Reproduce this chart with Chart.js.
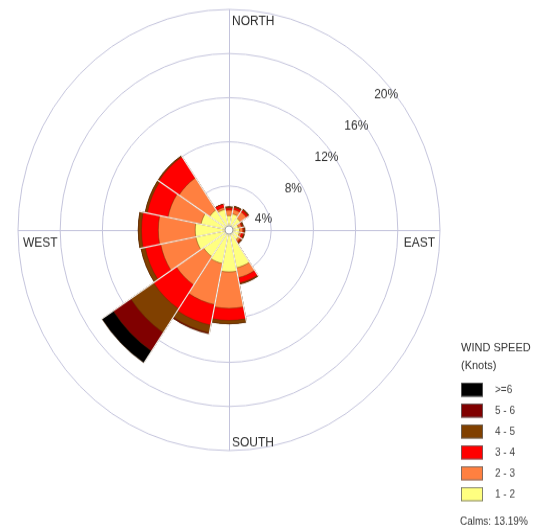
<!DOCTYPE html>
<html>
<head>
<meta charset="utf-8">
<script src="https://cdn.jsdelivr.net/npm/chart.js@4/dist/chart.umd.min.js"></script>
<style>
  html, body { margin: 0; padding: 0; background: #ffffff; }
  #rose { display: block; }
</style>
</head>
<body>
<!-- the bitmap is drawn at 539x506 and shown at 539x529 (slightly tall rose) -->
<canvas id="rose" width="539" height="506" style="width:539px;height:529px"></canvas>
<script>
// Direction sectors, clockwise from north
const directions = ['N', 'NNE', 'NE', 'ENE', 'E', 'ESE', 'SE', 'SSE',
                    'S', 'SSW', 'SW', 'WSW', 'W', 'WNW', 'NW', 'NNW'];

// Frequency (%) of each wind-speed class per direction
const speed1to2 = [1.3, 1.5, 1.3, 0.9, 1.0, 1.0, 1.1, 3.5, 3.8, 3.1, 2.9, 3.2, 3.2, 2.7, 2.2, 1.9];
const speed2to3 = [0.5, 0.4, 0.7, 0.3, 0.3, 0.2, 0.2, 0.9, 3.3, 3.8, 3.1, 3.4, 3.5, 3.2, 3.5, 0.2];
const speed3to4 = [0.2, 0.2, 0.2, 0.1, 0.1, 0.2, 0.1, 0.5, 1.1, 1.9, 2.6, 1.5, 1.6, 2.0, 2.3, 0.3];
const speed4to5 = [0.1, 0.1, 0.1, 0.1, 0.1, 0.1, 0.1, 0.1, 0.3, 0.7, 2.6, 0.4, 0.3, 0.2, 0.1, 0.0];
const speed5to6 = [0.0, 0.0, 0.0, 0.0, 0.0, 0.0, 0.0, 0.0, 0.0, 0.1, 2.0, 0.0, 0.0, 0.0, 0.0, 0.0];
const speed6up  = [0.0, 0.0, 0.0, 0.0, 0.0, 0.0, 0.0, 0.0, 0.0, 0.0, 1.3, 0.0, 0.0, 0.0, 0.0, 0.0];

const speedClasses = ['1 - 2', '2 - 3', '3 - 4', '4 - 5', '5 - 6', '>=6'];
const speedColors  = ['#ffff80', '#ff8040', '#ff0000', '#804000', '#800000', '#000000'];
const ringTicks = [4, 8, 12, 16, 20];
const compass = ['NORTH', 'EAST', 'SOUTH', 'WEST'];
const calmsPct = 13.19;
const legendTitle = ['WIND SPEED', '(Knots)'];

// Each speed class is drawn as a polar-area ring stacked on the classes below it
const bands = [speed1to2, speed2to3, speed3to4, speed4to5, speed5to6, speed6up];
const running = directions.map(() => 0);
const datasets = bands.map((band, k) => {
  const cumulative = band.map((v, i) => {
    running[i] = +(running[i] + v).toFixed(2);
    return running[i];
  });
  return {
    label: speedClasses[k],
    data: cumulative,
    backgroundColor: speedColors[k],
    borderColor: 'rgba(90,45,0,0.55)',
    borderWidth: 0.8
  };
});
const totals = running.slice();

const SECTOR = 360 / directions.length;
const START = -SECTOR / 2;
const FONT = '"Liberation Sans", Arial, sans-serif';

const roseDecor = {
  id: 'roseDecor',
  beforeDatasetsDraw(chart) {
    const s = chart.scales.r;
    const ctx = chart.ctx;
    const R = s.drawingArea;
    ctx.save();
    ctx.strokeStyle = '#c4c4dc';
    ctx.lineWidth = 1;
    ctx.beginPath();
    ctx.moveTo(s.xCenter + 0.5, s.yCenter - R);
    ctx.lineTo(s.xCenter + 0.5, s.yCenter + R);
    ctx.moveTo(s.xCenter - R, s.yCenter + 0.5);
    ctx.lineTo(s.xCenter + R, s.yCenter + 0.5);
    ctx.stroke();
    ctx.restore();
  },
  afterDatasetsDraw(chart) {
    const s = chart.scales.r;
    const ctx = chart.ctx;
    const xc = s.xCenter, yc = s.yCenter, R = s.drawingArea;
    ctx.save();

    // light gaps between neighbouring sectors
    ctx.strokeStyle = '#f6f3ee';
    ctx.lineWidth = 1.2;
    for (let k = 0; k < directions.length; k++) {
      const prev = totals[(k + directions.length - 1) % directions.length];
      const reach = s.getDistanceFromCenterForValue(Math.max(prev, totals[k])) + 1;
      const a = (START + k * SECTOR) * Math.PI / 180 - Math.PI / 2;
      ctx.beginPath();
      ctx.moveTo(xc, yc);
      ctx.lineTo(xc + reach * Math.cos(a), yc + reach * Math.sin(a));
      ctx.stroke();
    }

    // calm hole
    ctx.beginPath();
    ctx.arc(xc, yc, 4, 0, Math.PI * 2);
    ctx.fillStyle = '#ffffff';
    ctx.fill();
    ctx.strokeStyle = '#a0a0a0';
    ctx.lineWidth = 1;
    ctx.stroke();

    // ring percentages along the north-east diagonal
    ctx.fillStyle = '#333333';
    ctx.font = '12px ' + FONT;
    ctx.textAlign = 'left';
    ctx.textBaseline = 'top';
    ringTicks.forEach(t => {
      const r = s.getDistanceFromCenterForValue(t) * Math.SQRT1_2;
      ctx.fillText(t + '%', xc + r - 4, yc - r + 14);
    });

    // compass labels
    ctx.textBaseline = 'alphabetic';
    ctx.fillStyle = '#2a2a2a';
    ctx.textAlign = 'left';
    ctx.fillText(compass[0], xc + 3, yc - R + 15);
    ctx.fillText(compass[2], xc + 3, yc + R - 4);
    ctx.fillText(compass[3], xc - R + 5, yc + 16);
    ctx.textAlign = 'right';
    ctx.fillText(compass[1], xc + R - 5, yc + 16);

    // legend
    const lx = 461;
    ctx.textAlign = 'left';
    ctx.fillStyle = '#333333';
    ctx.font = '11px ' + FONT;
    ctx.fillText(legendTitle[0], lx, 335.5);
    ctx.fillText(legendTitle[1], lx, 353);
    ctx.font = '10px ' + FONT;
    ctx.textBaseline = 'middle';
    for (let i = 0; i < speedClasses.length; i++) {
      const k = speedClasses.length - 1 - i;
      const top = 366 + i * 20;
      ctx.fillStyle = speedColors[k];
      ctx.fillRect(lx, top, 22, 13.4);
      ctx.strokeStyle = '#666666';
      ctx.lineWidth = 0.8;
      ctx.strokeRect(lx + 0.4, top + 0.4, 21.2, 12.6);
      ctx.fillStyle = '#444444';
      ctx.fillText(speedClasses[k], lx + 34, top + 7);
    }
    ctx.textBaseline = 'alphabetic';
    ctx.fillStyle = '#333333';
    ctx.fillText('Calms: ' + calmsPct.toFixed(2) + '%', lx - 1, 502);
    ctx.restore();
  }
};

new Chart(document.getElementById('rose'), {
  type: 'polarArea',
  data: { labels: directions, datasets: datasets },
  options: {
    responsive: false,
    animation: false,
    devicePixelRatio: 1,
    layout: { padding: { left: 18, right: 99, top: 9, bottom: 75 } },
    plugins: {
      legend: { display: false },
      tooltip: { enabled: false },
      title: { display: false }
    },
    scales: {
      r: {
        min: 0,
        max: 20,
        startAngle: START,
        ticks: { display: false, stepSize: 4 },
        grid: { color: '#c4c4dc', lineWidth: 1, circular: true },
        angleLines: { display: false },
        pointLabels: { display: false }
      }
    }
  },
  plugins: [roseDecor]
});
</script>
</body>
</html>
